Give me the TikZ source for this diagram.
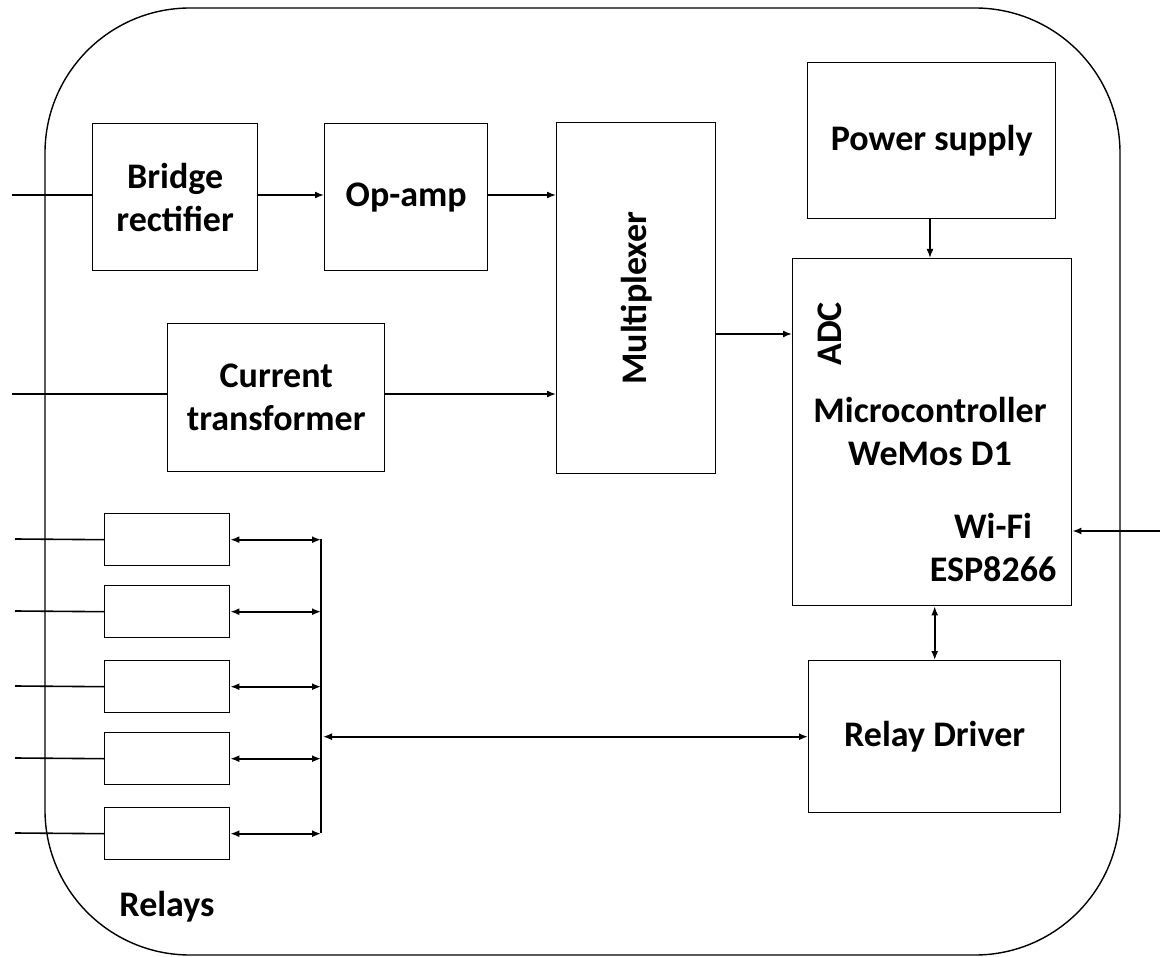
\documentclass[tikz,border=0pt]{standalone}
\usepackage{fontspec}
\setmainfont{Carlito}
\usetikzlibrary{arrows.meta}
\begin{document}
\begin{tikzpicture}[x=1pt,y=-1pt,
  blk/.style={draw, line width=1.4pt, anchor=north west, inner sep=0pt, align=center,
    font=\fontsize{36}{43}\selectfont\bfseries},
  lbl/.style={inner sep=0pt, align=center, font=\fontsize{36}{43}\selectfont\bfseries},
  wire/.style={line width=1.6pt},
  arr/.style={wire, -{Latex[length=9pt,width=7pt]}},
  darr/.style={wire, {Latex[length=9pt,width=7pt]}-{Latex[length=9pt,width=7pt]}}]
\useasboundingbox (0,0) rectangle (1160,957);
\fill[white] (0,0) rectangle (1160,957);
% outer enclosure
\draw[line width=1.4pt, rounded corners=145pt] (45,8) rectangle (1120,955);
% blocks
\node[blk, minimum width=165pt, minimum height=147pt] (br) at (92,123) {Bridge\\rectifier};
\node[blk, minimum width=163pt, minimum height=147pt] (oa) at (324,123) {Op-amp};
\node[blk, minimum width=159pt, minimum height=351pt] (mux) at (556,122) {};
\node[lbl, rotate=90] at (mux.center) {Multiplexer};
\node[blk, minimum width=217pt, minimum height=148pt] (ct) at (167,323) {Current\\transformer};
\node[blk, minimum width=248pt, minimum height=156pt] (ps) at (807,62) {Power supply};
\node[blk, minimum width=279pt, minimum height=347pt] (mcu) at (792,258) {};
\node[lbl, rotate=90] (adc) at (830,334) {ADC};
\node[lbl] (mname) at (930,432) {Microcontroller\\WeMos D1};
\node[lbl] (wifi) at (993,548) {Wi-Fi\\ESP8266};
\node[blk, minimum width=252pt, minimum height=152pt] (rd) at (808,660) {Relay Driver};
% relays
\foreach \i/\y in {1/513,2/585,3/660,4/732,5/807}{
  \node[blk, minimum width=125pt, minimum height=52pt] (r\i) at (104,\y) {};
  \coordinate (rin\i) at (15,\y+26);
  \draw[wire] (rin\i) -- (r\i.west);
}
\coordinate (bt) at (321,539);
\coordinate (bb) at (321,833);
\draw[wire] (bt) -- (bb);
\foreach \i in {1,...,5}{
  \draw[darr] (r\i.east) -- (r\i.east -| bt);
}
\node[lbl] (relays) at (167,907) {Relays};
% inputs
\coordinate (in1) at (12,195);
\coordinate (in2) at (12,394);
\coordinate (wifiin) at (1160,531);
\draw[wire] (in1) -- (in1 -| br.west);
\draw[wire] (in2) -- (in2 -| ct.west);
% connectors
\draw[arr] (br.east |- in1) -- (oa.west |- in1);
\draw[arr] (oa.east |- in1) -- (mux.west |- in1);
\draw[arr] (ct.east |- in2) -- (mux.west |- in2);
\draw[arr] (mux.east |- adc) -- (mcu.west |- adc);
\draw[arr] (ps.south -| mname) -- (mcu.north -| mname);
\draw[arr] (wifiin) -- (wifiin -| mcu.east);
\draw[darr] (mcu.south -| rd.north) -- (rd.north);
\draw[darr] ([xshift=2pt]bt |- rd.west) -- (rd.west);
\end{tikzpicture}
\end{document}
